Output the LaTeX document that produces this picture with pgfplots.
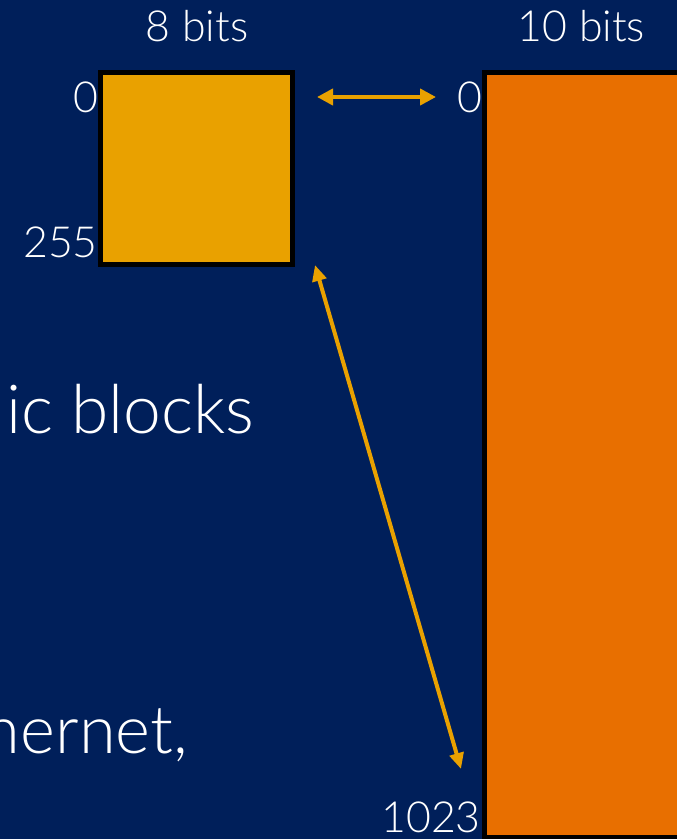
\documentclass[border=0pt]{standalone}
\usepackage{pgfplots}
\pgfplotsset{compat=1.18}
\usetikzlibrary{arrows.meta}
\usepackage{fontspec}
\setmainfont{Lato Light}
\definecolor{navy}{HTML}{001F5A}
\definecolor{gold}{HTML}{E9A100}
\definecolor{orng}{HTML}{E86F00}
\begin{document}
\begin{tikzpicture}
\begin{axis}[
  scale only axis, width=677bp, height=839bp,
  xmin=0, xmax=677, ymin=0, ymax=839, y dir=reverse,
  axis lines=none, ticks=none, clip=true,
]
% background
\addplot[draw=none, fill=navy] coordinates {(-5,-5) (690,-5) (690,850) (-5,850)} -- cycle;
% 8-bit block
\addplot[draw=black, line width=5bp, fill=gold] coordinates {(100.5,72.5) (292.5,72.5) (292.5,264.5) (100.5,264.5)} -- cycle;
% 10-bit block
\addplot[draw=black, line width=5bp, fill=orng] coordinates {(484.5,72.5) (700,72.5) (700,837) (484.5,837)} -- cycle;
% arrows
\addplot[gold, line width=4bp, {Triangle[length=16bp,width=16bp]}-{Triangle[length=16bp,width=16bp]}] coordinates {(317,97) (436,97)};
\addplot[gold, line width=4bp, {Triangle[length=16bp,width=14bp]}-{Triangle[length=16bp,width=14bp]}] coordinates {(315,265) (461,769)};
% labels
\node[white, inner sep=0, anchor=base, font=\fontsize{43}{50}\selectfont] at (axis cs:197,42) {8 bits};
\node[white, inner sep=0, anchor=base, font=\fontsize{43}{50}\selectfont] at (axis cs:581.5,42) {10 bits};
\node[white, inner sep=0, anchor=base east, font=\fontsize{43}{50}\selectfont] at (axis cs:99,113) {0};
\node[white, inner sep=0, anchor=base east, font=\fontsize{43}{50}\selectfont] at (axis cs:98,257) {255};
\node[white, inner sep=0, anchor=base east, font=\fontsize{43}{50}\selectfont] at (axis cs:483,113) {0};
\node[white, inner sep=0, anchor=base east, font=\fontsize{43}{50}\selectfont] at (axis cs:481,832) {1023};
\node[white, inner sep=0, anchor=base west, font=\fontsize{68}{80}\selectfont, overlay] at (axis cs:6,433) {ic blocks};
\node[white, inner sep=0, anchor=base east, font=\fontsize{67}{80}\selectfont, overlay] at (axis cs:188,753) {Ethernet,};
\end{axis}
\end{tikzpicture}
\end{document}
